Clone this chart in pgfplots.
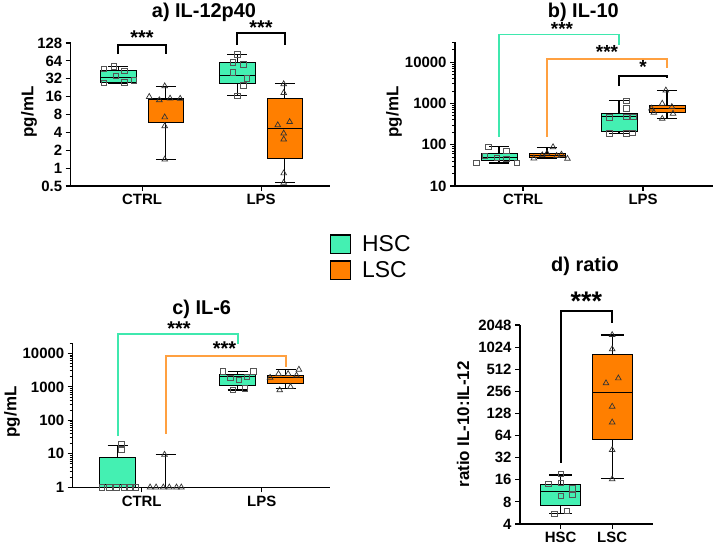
\documentclass[border=0pt]{standalone}
\usepackage{fontspec}
\setmainfont{Liberation Sans}
\usepackage{pgfplots}
\pgfplotsset{compat=1.18}

\definecolor{hsc}{HTML}{44F0B2}
\definecolor{lsc}{HTML}{FF7F00}
\definecolor{hscline}{HTML}{3FE8AE}
\definecolor{lscline}{HTML}{FFA040}
\definecolor{markgray}{HTML}{555555}

\newcommand{\fs}[1]{\fontsize{#1}{#1}\selectfont}

% box with whiskers: #1 position, #2 half box width, #3 half cap width,
% #4 min, #5 q1, #6 median, #7 q3, #8 max, #9 fill colour
\newcommand{\bx}[9]{%
  \pgfmathsetmacro\bxl{#1-#2}\pgfmathsetmacro\bxr{#1+#2}%
  \pgfmathsetmacro\bxcl{#1-#3}\pgfmathsetmacro\bxcr{#1+#3}%
  \addplot[black, line width=1.1pt] coordinates {(#1,#7) (#1,#8)};
  \addplot[black, line width=1.1pt] coordinates {(#1,#5) (#1,#4)};
  \addplot[black, line width=1.3pt] coordinates {(\bxcl,#8) (\bxcr,#8)};
  \addplot[black, line width=1.3pt] coordinates {(\bxcl,#4) (\bxcr,#4)};
  \addplot[fill=#9, draw=black, line width=1pt] coordinates {(\bxl,#5) (\bxr,#5) (\bxr,#7) (\bxl,#7) (\bxl,#5)};
  \addplot[black, line width=1.2pt] coordinates {(\bxl,#6) (\bxr,#6)};
}

% significance bracket: #1 colour, #2 x left, #3 y left end, #4 x right, #5 y top, #6 y right end
\newcommand{\brk}[6]{%
  \draw[#1, line width=1.7pt, line cap=butt, line join=miter]
    (axis cs:#2,#3) -- (axis cs:#2,#5) -- (axis cs:#4,#5) -- (axis cs:#4,#6);
}

\tikzset{stars/.style={font=\bfseries\fs{#1}, inner sep=0pt}}

\pgfplotsset{
  panel/.style={
    scale only axis, anchor=south west, clip=false,
    axis x line*=bottom, axis y line*=left,
    axis line style={line width=1.5pt, -},
    tick align=outside,
    major tick length=5pt, minor tick length=3pt,
    every tick/.append style={line width=1.2pt, black},
    every minor tick/.append style={line width=0.9pt, black},
    tick label style={font=\bfseries\fs{15}},
    /pgf/number format/assume math mode=true,
    xtick={0,1},
  },
  hscpts/.style={only marks, mark=square, mark size=2.7pt,
    mark options={draw=markgray, line width=0.7pt, fill=none}},
  lscpts/.style={only marks, mark=triangle, mark size=3.3pt,
    mark options={draw=black!80, line width=0.7pt, fill=none}},
}

\begin{document}
\begin{tikzpicture}
\path[use as bounding box] (0bp,0bp) rectangle (714bp,550bp);

% ---------------- a) IL-12p40 ----------------
\begin{axis}[panel, at={(70.7bp,364bp)}, width=259.3bp, height=143bp,
  xmin=-0.6, xmax=1.579, xticklabels={CTRL,LPS},
  ymode=log, log basis y=2, ymin=0.5, ymax=128,
  ytick={0.5,1,2,4,8,16,32,64,128},
  yticklabels={0.5,1,2,4,8,16,32,64,128}]
\bx{-0.2}{0.15}{0.085}{27}{28}{33.6}{43.5}{52}{hsc}
\bx{0.2}{0.15}{0.085}{1.4}{5.9}{14.3}{14.9}{24}{lsc}
\bx{0.8}{0.15}{0.085}{16.5}{26.7}{36.8}{59}{82}{hsc}
\bx{1.2}{0.15}{0.085}{0.58}{1.48}{4.66}{14.9}{26.7}{lsc}
\addplot[hscpts] coordinates {(-0.24,52) (-0.32,46.5) (-0.15,43.5) (-0.22,35.5) (-0.32,27.3) (-0.15,28) (-0.07,30)};
\addplot[lscpts] coordinates {(0.19,24) (0.06,15.9) (0.145,14) (0.235,14.9) (0.32,14.8) (0.19,7.2) (0.19,5.1) (0.19,1.4)};
\addplot[hscpts] coordinates {(0.8,82) (0.76,60.5) (0.85,55.6) (0.76,40.8) (0.88,32.7) (0.85,24.7) (0.8,16.5)};
\addplot[lscpts] coordinates {(1.19,26) (1.19,18.5) (1.24,6.0) (1.14,5.3) (1.19,3.85) (1.19,3.05) (1.19,0.82) (1.19,0.57)};
% significance brackets
\brk{black}{-0.2}{83}{0.2}{118}{83}
\brk{black}{0.8}{118}{1.2}{187}{118}
\node[stars=20] at (axis cs:0,160) {***};
\node[stars=20] at (axis cs:1,235) {***};
\end{axis}
\node[font=\bfseries\fs{20}] at (204bp,538bp) {a) IL-12p40};
\node[font=\bfseries\fs{17}, rotate=90] at (29bp,438bp) {pg/mL};

% ---------------- b) IL-10 ----------------
\begin{axis}[panel, at={(455bp,364bp)}, width=258bp, height=144.3bp,
  xmin=-0.567, xmax=1.583, xticklabels={CTRL,LPS},
  ymode=log, ymin=10, ymax=31623,
  ytick={10,100,1000,10000}, yticklabels={10,100,1000,10000},
  minor ytick={20,30,40,50,60,70,80,90,200,300,400,500,600,700,800,900,
    2000,3000,4000,5000,6000,7000,8000,9000,20000,30000}]
\bx{-0.2}{0.15}{0.085}{36}{42}{50}{62}{89}{hsc}
\bx{0.2}{0.15}{0.085}{46}{50}{56}{62}{86}{lsc}
\bx{0.8}{0.15}{0.085}{188}{206}{478}{575}{1162}{hsc}
\bx{1.2}{0.15}{0.085}{436}{605}{760}{912}{2090}{lsc}
\addplot[hscpts] coordinates {(-0.29,89) (-0.14,71.6) (-0.39,36.6) (-0.05,36) (-0.22,48) (-0.14,45) (-0.32,53)};
\addplot[lscpts] coordinates {(0.25,88) (0.09,47) (0.16,56) (0.28,54) (0.37,46) (0.2,62) (0.32,58)};
\addplot[hscpts] coordinates {(0.86,1160) (0.86,760) (0.86,478) (0.92,470) (0.72,460) (0.72,188) (0.86,190) (0.91,195)};
\addplot[lscpts] coordinates {(1.19,2090) (1.16,1000) (1.07,760) (1.24,830) (1.09,600) (1.16,430) (1.25,570)};
% significance brackets
\brk{hscline}{-0.2}{156}{0.8}{47000}{25900}
\brk{lscline}{0.2}{156}{1.2}{11900}{7080}
\brk{black}{0.8}{2650}{1.2}{4600}{4100}
\node[stars=19] at (axis cs:0.325,66000) {***};
\node[stars=19] at (axis cs:0.7,17500) {***};
\node[stars=19] at (axis cs:1.0,7600) {*};
\end{axis}
\node[font=\bfseries\fs{20}] at (583.3bp,538bp) {b) IL-10};
\node[font=\bfseries\fs{17}, rotate=90] at (394bp,438bp) {pg/mL};

% ---------------- legend ----------------
\draw[black, line width=1.4pt, fill=hsc] (330.7bp,296.7bp) rectangle (350.7bp,315bp);
\draw[black, line width=1.4pt, fill=lsc] (330.7bp,270.7bp) rectangle (350.7bp,289bp);
\node[font=\fs{23}, anchor=west, inner sep=0pt] at (362bp,306bp) {HSC};
\node[font=\fs{23}, anchor=west, inner sep=0pt] at (362bp,280bp) {LSC};

% ---------------- c) IL-6 ----------------
\begin{axis}[panel, at={(72.7bp,62.7bp)}, width=257.3bp, height=144.6bp,
  xmin=-0.575, xmax=1.569, xticklabels={CTRL,LPS},
  ymode=log, ymin=1, ymax=20900,
  ytick={1,10,100,1000,10000}, yticklabels={1,10,100,1000,10000},
  minor ytick={2,3,4,5,6,7,8,9,20,30,40,50,60,70,80,90,200,300,400,500,600,700,800,900,
    2000,3000,4000,5000,6000,7000,8000,9000,20000}]
\bx{-0.2}{0.15}{0.085}{1}{1}{1.23}{7.9}{17.5}{hsc}
\bx{0.2}{0.15}{0.085}{1}{1}{1}{1}{9.7}{lsc}
\bx{0.8}{0.15}{0.085}{800}{1080}{2100}{2400}{2820}{hsc}
\bx{1.2}{0.15}{0.085}{900}{1260}{1910}{2240}{3320}{lsc}
\addplot[hscpts] coordinates {(-0.33,1) (-0.27,1) (-0.21,1) (-0.15,1) (-0.10,1) (-0.05,1) (-0.17,19.6) (-0.17,13)};
\addplot[lscpts] coordinates {(0.07,1) (0.12,1) (0.18,1) (0.23,1) (0.29,1) (0.33,1) (0.19,9.5)};
\addplot[hscpts] coordinates {(0.675,2900) (0.93,2900) (0.74,1900) (0.875,1980) (0.81,1590) (0.76,800) (0.86,900)};
\addplot[lscpts] coordinates {(1.31,3300) (1.14,2450) (1.22,2450) (1.07,1900) (1.15,800) (1.24,1000) (1.29,2200)};
% significance brackets
\brk{hscline}{-0.2}{34}{0.8}{37700}{19000}
\brk{lscline}{0.2}{39}{1.2}{8500}{3990}
\node[stars=20] at (axis cs:0.31,56000) {***};
\node[stars=20] at (axis cs:0.69,14000) {***};
\end{axis}
\node[font=\bfseries\fs{20}] at (201.7bp,241bp) {c) IL-6};
\node[font=\bfseries\fs{17}, rotate=90] at (12bp,138bp) {pg/mL};

% ---------------- d) ratio ----------------
\begin{axis}[panel, at={(520bp,26bp)}, width=133bp, height=199bp,
  xmin=-0.79, xmax=1.793, xticklabels={HSC,LSC},
  ymode=log, log basis y=2, ymin=4, ymax=2048,
  ytick={4,8,16,32,64,128,256,512,1024,2048},
  yticklabels={4,8,16,32,64,128,256,512,1024,2048}]
\bx{0}{0.39}{0.22}{5.6}{7.1}{11}{13.9}{18.6}{hsc}
\bx{1}{0.39}{0.22}{16.8}{56.9}{246}{803}{1500}{lsc}
\addplot[hscpts] coordinates {(0,19.2) (-0.24,14) (0,14.6) (0.23,12.3) (0,9.6) (0.23,9.9) (0.12,6.0) (-0.12,5.5)};
\addplot[lscpts] coordinates {(1,1500) (1,960) (0.88,331) (1.12,386) (1,159) (1,97) (1,40.8) (1,16.3)};
\brk{black}{0}{27.3}{1}{3190}{2210}
\node[stars=27] at (axis cs:0.5,4300) {***};
\end{axis}
\node[font=\bfseries\fs{20}] at (585bp,283.3bp) {d) ratio};
\node[font=\bfseries\fs{17}, rotate=90] at (463bp,125.5bp) {ratio IL-10:IL-12};
\end{tikzpicture}
\end{document}
